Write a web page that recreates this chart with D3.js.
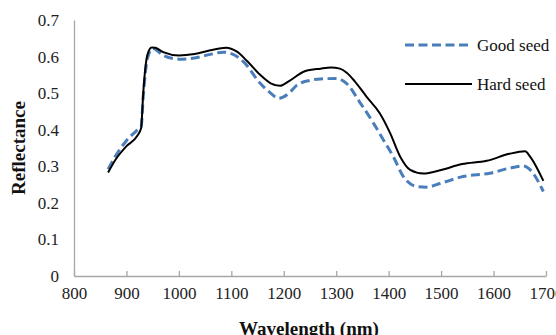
<!DOCTYPE html>
<html>
<head>
<meta charset="utf-8">
<script src="https://cdn.jsdelivr.net/npm/d3@7"></script>
<style>
  html, body { margin: 0; padding: 0; background: #fff; overflow: hidden; }
  svg { display: block; }
</style>
</head>
<body>
<svg id="chart" width="556" height="335"></svg>
<script>
// ---- Data ----
const xTicks = [800, 900, 1000, 1100, 1200, 1300, 1400, 1500, 1600, 1700];
const yTicks = [0, 0.1, 0.2, 0.3, 0.4, 0.5, 0.6, 0.7];
const seriesNames = ["Good seed", "Hard seed"];

const goodWavelength = [865, 880, 900, 920, 928, 932, 940, 950, 955, 970, 1000, 1030, 1060, 1085, 1100, 1123, 1155, 1175, 1190, 1210, 1225, 1250, 1270, 1300, 1320, 1345, 1371, 1390, 1409, 1428, 1453, 1472, 1498, 1542, 1593, 1631, 1657, 1670, 1695];
const goodReflectance = [0.292, 0.330, 0.370, 0.398, 0.408, 0.490, 0.595, 0.622, 0.620, 0.603, 0.593, 0.596, 0.606, 0.612, 0.608, 0.586, 0.527, 0.500, 0.486, 0.500, 0.522, 0.535, 0.539, 0.540, 0.526, 0.475, 0.418, 0.372, 0.326, 0.272, 0.245, 0.243, 0.253, 0.272, 0.281, 0.295, 0.301, 0.290, 0.231];

const hardWavelength = [865, 880, 900, 920, 928, 932, 940, 948, 955, 970, 1000, 1030, 1060, 1090, 1110, 1130, 1155, 1175, 1193, 1210, 1240, 1270, 1290, 1307, 1320, 1335, 1358, 1383, 1403, 1422, 1441, 1466, 1500, 1540, 1587, 1630, 1660, 1670, 1695];
const hardReflectance = [0.283, 0.320, 0.355, 0.382, 0.405, 0.500, 0.605, 0.625, 0.624, 0.612, 0.603, 0.607, 0.617, 0.624, 0.614, 0.588, 0.550, 0.527, 0.520, 0.533, 0.560, 0.567, 0.570, 0.567, 0.556, 0.533, 0.490, 0.445, 0.390, 0.326, 0.290, 0.280, 0.290, 0.306, 0.315, 0.334, 0.341, 0.326, 0.260];

// ---- Layout ----
const svg = d3.select("#chart");
const x = d3.scaleLinear().domain([800, 1700]).range([74, 546]);
const y = d3.scaleLinear().domain([0, 0.7]).range([276, 20]);
const axisColor = "#a6a6a6";
const font = "'Liberation Serif', 'Times New Roman', serif";

// X axis
const xAxis = svg.append("g").attr("transform", `translate(0,${y(0)})`)
  .call(d3.axisBottom(x).tickValues(xTicks).tickSizeInner(-5).tickSizeOuter(0).tickPadding(11).tickFormat(d3.format("d")));
xAxis.select(".domain").attr("stroke", axisColor).attr("stroke-width", 1.3);
xAxis.selectAll(".tick line").attr("stroke", axisColor).attr("stroke-width", 1.3);
xAxis.selectAll(".tick text").attr("font-family", font).attr("font-size", 17).attr("fill", "#222");

// Y axis
const yAxis = svg.append("g").attr("transform", `translate(${x(800)},0)`)
  .call(d3.axisLeft(y).tickValues(yTicks).tickSize(0).tickPadding(15).tickFormat(d => d === 0 ? "0" : d3.format(".1f")(d)));
yAxis.select(".domain").attr("stroke", axisColor).attr("stroke-width", 1.3);
yAxis.selectAll(".tick text").attr("font-family", font).attr("font-size", 17).attr("fill", "#222");

// Axis titles
svg.append("text").attr("x", 309).attr("y", 335).attr("text-anchor", "middle")
  .attr("font-family", font).attr("font-weight", "bold").attr("font-size", 19).attr("fill", "#111")
  .text("Wavelength (nm)");
svg.append("text").attr("transform", "translate(25,148) rotate(-90)").attr("text-anchor", "middle")
  .attr("font-family", font).attr("font-weight", "bold").attr("font-size", 19).attr("fill", "#111")
  .text("Reflectance");

// Lines
const line = d3.line().x(d => x(d[0])).y(d => y(d[1])).curve(d3.curveMonotoneX);
const goodData = goodWavelength.map((w, i) => [w, goodReflectance[i]]);
const hardData = hardWavelength.map((w, i) => [w, hardReflectance[i]]);

svg.append("path").datum(goodData).attr("d", line).attr("fill", "none")
  .attr("stroke", "#4a7ebb").attr("stroke-width", 3).attr("stroke-dasharray", "9,4.5");
svg.append("path").datum(hardData).attr("d", line).attr("fill", "none")
  .attr("stroke", "#000").attr("stroke-width", 2);

// Legend
const legend = svg.append("g");
const legendItems = [
  {name: seriesNames[0], y: 45, stroke: "#4a7ebb", width: 3, dash: "9,4.5"},
  {name: seriesNames[1], y: 84, stroke: "#000", width: 2, dash: null}
];
legendItems.forEach(it => {
  legend.append("line").attr("x1", 405).attr("x2", 472).attr("y1", it.y).attr("y2", it.y)
    .attr("stroke", it.stroke).attr("stroke-width", it.width).attr("stroke-dasharray", it.dash);
  legend.append("text").attr("x", 477).attr("y", it.y).attr("dy", "0.35em")
    .attr("font-family", font).attr("font-size", 17).attr("fill", "#111").text(it.name);
});
</script>
</body>
</html>
